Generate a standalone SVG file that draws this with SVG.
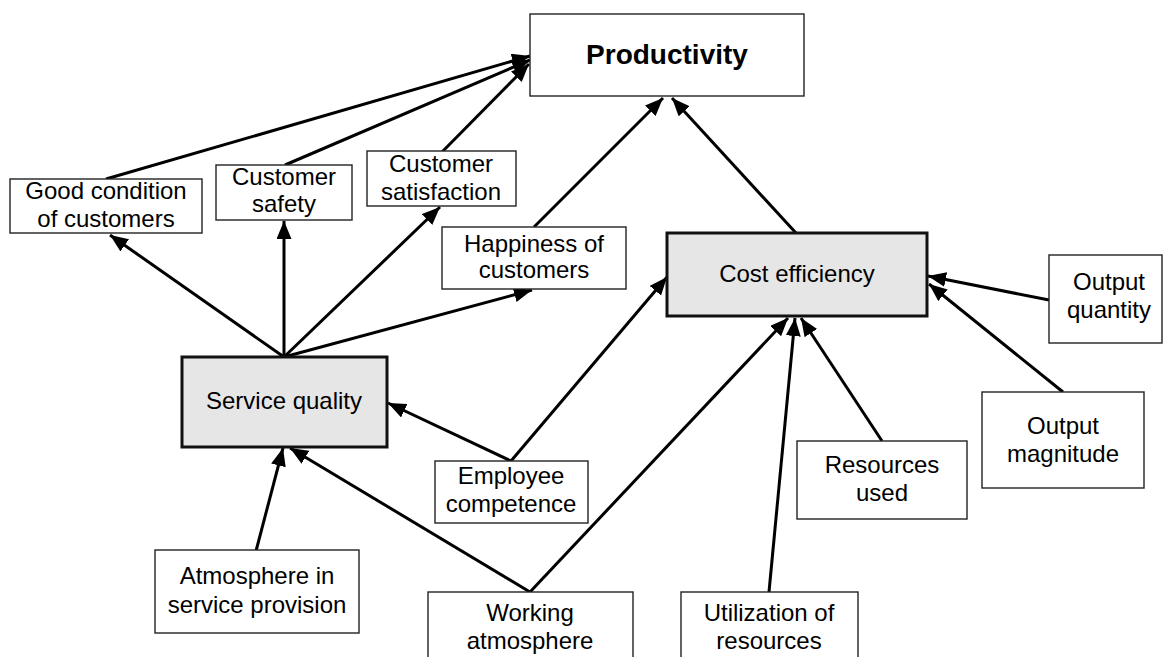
<svg xmlns="http://www.w3.org/2000/svg" width="1163" height="657" viewBox="0 0 1163 657">
  <style>
    .box { fill: #ffffff; stroke: #222222; stroke-width: 1.4; }
    .core { fill: #e6e6e6; stroke: #111111; stroke-width: 3; }
    .lbl { font-family: "Liberation Sans", Arial, sans-serif; font-size: 24px; fill: #000000; text-anchor: middle; }
    .title { font-family: "Liberation Sans", Arial, sans-serif; font-size: 28px; font-weight: bold; fill: #000000; text-anchor: middle; }
    .edge { stroke: #000000; stroke-width: 3; fill: none; marker-end: url(#head); }
  </style>
  <defs>
    <!-- solid triangular arrowhead shared by every connector -->
    <marker id="head" markerUnits="userSpaceOnUse" markerWidth="20" markerHeight="16" refX="18" refY="7.5" orient="auto">
      <path d="M0,0 L18,7.5 L0,15 z" fill="#000000"/>
    </marker>
  </defs>

  <rect width="1163" height="657" fill="#ffffff"/>

  <g id="connectors">
    <line class="edge" x1="106" y1="179" x2="530" y2="56"/>
    <line class="edge" x1="285" y1="165" x2="530" y2="60"/>
    <line class="edge" x1="442" y1="152" x2="529" y2="64"/>
    <line class="edge" x1="534" y1="227" x2="663" y2="98"/>
    <line class="edge" x1="796" y1="233" x2="672" y2="98"/>
    <line class="edge" x1="284" y1="357" x2="110" y2="235"/>
    <line class="edge" x1="284" y1="357" x2="284" y2="221"/>
    <line class="edge" x1="284" y1="357" x2="440" y2="207"/>
    <line class="edge" x1="284" y1="357" x2="532" y2="290"/>
    <line class="edge" x1="511" y1="461" x2="388" y2="403"/>
    <line class="edge" x1="511" y1="461" x2="667" y2="277"/>
    <line class="edge" x1="256" y1="551" x2="283" y2="448"/>
    <line class="edge" x1="530" y1="592" x2="290" y2="448"/>
    <line class="edge" x1="530" y1="592" x2="788" y2="318"/>
    <line class="edge" x1="769" y1="592" x2="795" y2="318"/>
    <line class="edge" x1="882" y1="441" x2="801" y2="318"/>
    <line class="edge" x1="1049" y1="300" x2="928" y2="276"/>
    <line class="edge" x1="1063" y1="392" x2="929" y2="284"/>
  </g>

  <g id="productivity">
    <rect class="box" x="530" y="14" width="274" height="82"/>
    <text class="title" x="667" y="64">Productivity</text>
  </g>
  <g id="good-condition">
    <rect class="box" x="10" y="179" width="192" height="54"/>
    <text class="lbl" x="106" y="199">Good condition</text>
    <text class="lbl" x="106" y="227">of customers</text>
  </g>
  <g id="customer-safety">
    <rect class="box" x="216" y="165" width="136" height="55"/>
    <text class="lbl" x="284" y="185">Customer</text>
    <text class="lbl" x="284" y="212">safety</text>
  </g>
  <g id="customer-satisfaction">
    <rect class="box" x="367" y="151" width="149" height="55"/>
    <text class="lbl" x="441" y="172">Customer</text>
    <text class="lbl" x="441" y="200">satisfaction</text>
  </g>
  <g id="happiness">
    <rect class="box" x="442" y="227" width="184" height="62"/>
    <text class="lbl" x="534" y="252">Happiness of</text>
    <text class="lbl" x="534" y="278">customers</text>
  </g>
  <g id="cost-efficiency">
    <rect class="core" x="667" y="233" width="260" height="83"/>
    <text class="lbl" x="797" y="282">Cost efficiency</text>
  </g>
  <g id="output-quantity">
    <rect class="box" x="1049" y="255" width="113" height="88"/>
    <text class="lbl" x="1109" y="290">Output</text>
    <text class="lbl" x="1109" y="318">quantity</text>
  </g>
  <g id="service-quality">
    <rect class="core" x="182" y="357" width="205" height="90"/>
    <text class="lbl" x="284" y="409">Service quality</text>
  </g>
  <g id="employee-competence">
    <rect class="box" x="435" y="461" width="153" height="62"/>
    <text class="lbl" x="511" y="484">Employee</text>
    <text class="lbl" x="511" y="512">competence</text>
  </g>
  <g id="resources-used">
    <rect class="box" x="797" y="441" width="170" height="78"/>
    <text class="lbl" x="882" y="473">Resources</text>
    <text class="lbl" x="882" y="501">used</text>
  </g>
  <g id="output-magnitude">
    <rect class="box" x="982" y="392" width="162" height="96"/>
    <text class="lbl" x="1063" y="434">Output</text>
    <text class="lbl" x="1063" y="462">magnitude</text>
  </g>
  <g id="atmosphere-service">
    <rect class="box" x="155" y="550" width="204" height="83"/>
    <text class="lbl" x="257" y="584">Atmosphere in</text>
    <text class="lbl" x="257" y="613">service provision</text>
  </g>
  <g id="working-atmosphere">
    <rect class="box" x="428" y="592" width="205" height="80"/>
    <text class="lbl" x="530" y="621">Working</text>
    <text class="lbl" x="530" y="649">atmosphere</text>
  </g>
  <g id="utilization">
    <rect class="box" x="681" y="592" width="177" height="80"/>
    <text class="lbl" x="769" y="621">Utilization of</text>
    <text class="lbl" x="769" y="649">resources</text>
  </g>
</svg>
